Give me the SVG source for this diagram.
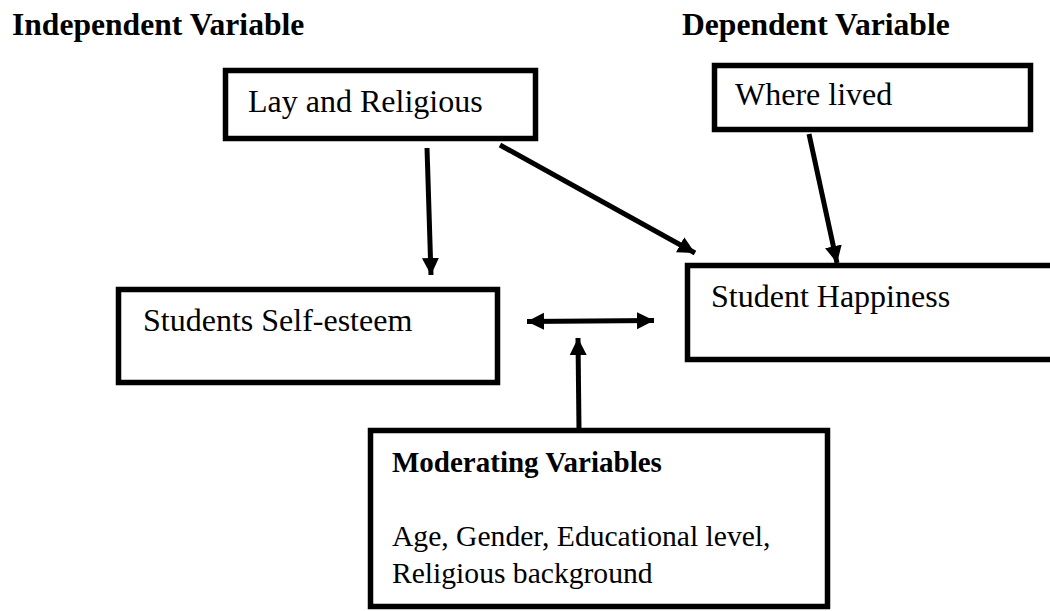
<svg xmlns="http://www.w3.org/2000/svg" width="1050" height="611" viewBox="0 0 1050 611">
<style>
  .box { fill: #ffffff; stroke: #000000; stroke-width: 5.5; }
  .t { font-family: "Liberation Serif", "Times New Roman", serif; font-size: 32px; fill: #000000; }
  .tm { font-family: "Liberation Serif", "Times New Roman", serif; font-size: 29.6px; fill: #000000; }
  .h { font-family: "Liberation Serif", "Times New Roman", serif; font-size: 31.6px; font-weight: bold; fill: #000000; }
  .hm { font-family: "Liberation Serif", "Times New Roman", serif; font-size: 29px; font-weight: bold; fill: #000000; }
  .c { stroke: #000000; stroke-width: 5; fill: none; }
</style>
<defs>
  <marker id="ah" markerUnits="userSpaceOnUse" markerWidth="20" markerHeight="20" refX="17" refY="8.5" orient="auto-start-reverse">
    <path d="M0,0 L17,8.5 L0,17 Z" fill="#000000"/>
  </marker>
</defs>
<rect width="1050" height="611" fill="#ffffff"/>
<text class="h" x="12" y="35">Independent Variable</text>
<text class="h" x="682" y="35">Dependent Variable</text>

<g id="node-lay">
  <rect class="box" x="225.5" y="70.5" width="310" height="68"/>
  <text class="t" x="248" y="112">Lay and Religious</text>
</g>
<g id="node-where">
  <rect class="box" x="714.5" y="65.5" width="316" height="64"/>
  <text class="t" x="735" y="105">Where lived</text>
</g>
<g id="node-selfesteem">
  <rect class="box" x="118.5" y="289.5" width="379" height="93"/>
  <text class="t" x="143" y="331">Students Self-esteem</text>
</g>
<g id="node-happiness">
  <rect class="box" x="687.5" y="265.5" width="380" height="94"/>
  <text class="t" x="711" y="307">Student Happiness</text>
</g>
<g id="node-moderating">
  <rect class="box" x="370.5" y="430.5" width="457" height="176"/>
  <text class="hm" x="392" y="472">Moderating Variables</text>
  <text class="tm" x="392" y="546">Age, Gender, Educational level,</text>
  <text class="tm" x="392" y="583">Religious background</text>
</g>

<g id="connectors">
  <line class="c" x1="427" y1="148" x2="431" y2="275" marker-end="url(#ah)"/>
  <line class="c" x1="500" y1="145" x2="695" y2="253" marker-end="url(#ah)"/>
  <line class="c" x1="809" y1="134" x2="837" y2="263" marker-end="url(#ah)"/>
  <line class="c" x1="527" y1="321.5" x2="654" y2="320.5" marker-start="url(#ah)" marker-end="url(#ah)"/>
  <line class="c" x1="579" y1="430" x2="578" y2="338" marker-end="url(#ah)"/>
</g>
</svg>
